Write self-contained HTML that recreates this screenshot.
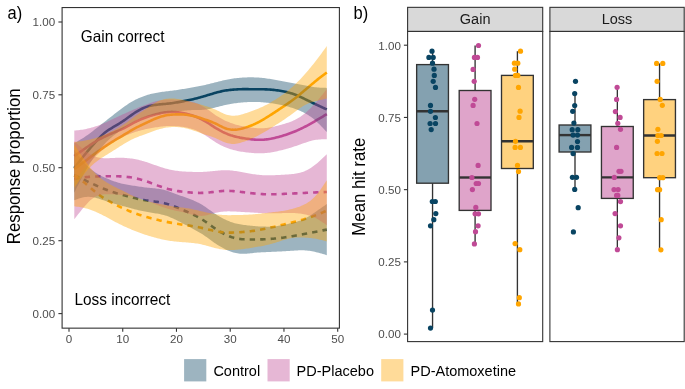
<!DOCTYPE html>
<html><head><meta charset="utf-8"><style>
html,body{margin:0;padding:0;background:#fff;width:685px;height:389px;overflow:hidden}
svg text{font-family:"Liberation Sans", sans-serif}
svg{will-change:transform}
</style></head><body>
<svg width="685" height="389" viewBox="0 0 685 389" style="display:block">
<rect width="685" height="389" fill="#fff"/>
<g>
<path d="M74.30,167.93 L75.64,166.22 L76.97,164.50 L78.31,162.79 L79.64,161.09 L80.98,159.40 L82.32,157.72 L83.65,156.06 L84.99,154.41 L86.32,152.79 L87.66,151.18 L89.00,149.60 L90.33,148.03 L91.67,146.48 L93.00,144.94 L94.34,143.41 L95.68,141.90 L97.01,140.41 L98.35,138.94 L99.68,137.52 L101.02,136.15 L102.36,134.85 L103.69,133.62 L105.03,132.49 L106.36,131.45 L107.70,130.50 L109.04,129.62 L110.37,128.79 L111.71,128.01 L113.04,127.24 L114.38,126.47 L115.72,125.70 L117.05,124.91 L118.39,124.10 L119.72,123.26 L121.06,122.41 L122.40,121.53 L123.73,120.63 L125.07,119.71 L126.40,118.76 L127.74,117.80 L129.08,116.82 L130.41,115.85 L131.75,114.89 L133.08,113.95 L134.42,113.04 L135.76,112.16 L137.09,111.33 L138.43,110.54 L139.76,109.80 L141.10,109.10 L142.43,108.46 L143.77,107.88 L145.11,107.35 L146.44,106.88 L147.78,106.47 L149.11,106.11 L150.45,105.79 L151.79,105.51 L153.12,105.27 L154.46,105.05 L155.79,104.87 L157.13,104.70 L158.47,104.55 L159.80,104.41 L161.14,104.28 L162.47,104.16 L163.81,104.04 L165.15,103.92 L166.48,103.79 L167.82,103.65 L169.15,103.50 L170.49,103.34 L171.83,103.18 L173.16,103.00 L174.50,102.80 L175.83,102.59 L177.17,102.37 L178.51,102.14 L179.84,101.89 L181.18,101.64 L182.51,101.38 L183.85,101.12 L185.19,100.85 L186.52,100.58 L187.86,100.31 L189.19,100.03 L190.53,99.75 L191.87,99.46 L193.20,99.15 L194.54,98.84 L195.87,98.51 L197.21,98.17 L198.55,97.82 L199.88,97.45 L201.22,97.08 L202.55,96.70 L203.89,96.31 L205.23,95.91 L206.56,95.51 L207.90,95.10 L209.23,94.70 L210.57,94.29 L211.91,93.89 L213.24,93.50 L214.58,93.11 L215.91,92.74 L217.25,92.37 L218.59,92.02 L219.92,91.69 L221.26,91.38 L222.59,91.09 L223.93,90.82 L225.27,90.58 L226.60,90.37 L227.94,90.18 L229.27,90.02 L230.61,89.87 L231.95,89.75 L233.28,89.63 L234.62,89.53 L235.95,89.44 L237.29,89.36 L238.63,89.29 L239.96,89.23 L241.30,89.18 L242.63,89.15 L243.97,89.13 L245.31,89.12 L246.64,89.13 L247.98,89.15 L249.31,89.18 L250.65,89.21 L251.99,89.25 L253.32,89.27 L254.66,89.29 L255.99,89.30 L257.33,89.30 L258.67,89.29 L260.00,89.29 L261.34,89.28 L262.67,89.28 L264.01,89.30 L265.34,89.33 L266.68,89.38 L268.02,89.45 L269.35,89.53 L270.69,89.63 L272.02,89.75 L273.36,89.89 L274.70,90.04 L276.03,90.21 L277.37,90.39 L278.70,90.58 L280.04,90.80 L281.38,91.03 L282.71,91.28 L284.05,91.54 L285.38,91.82 L286.72,92.13 L288.06,92.45 L289.39,92.80 L290.73,93.18 L292.06,93.58 L293.40,94.02 L294.74,94.50 L296.07,95.01 L297.41,95.56 L298.74,96.14 L300.08,96.74 L301.42,97.37 L302.75,98.00 L304.09,98.65 L305.42,99.31 L306.76,99.96 L308.10,100.61 L309.43,101.27 L310.77,101.92 L312.10,102.57 L313.44,103.21 L314.78,103.85 L316.11,104.49 L317.45,105.11 L318.78,105.74 L320.12,106.36 L321.46,106.97 L322.79,107.59 L324.13,108.20 L325.46,108.81 L326.80,109.42" fill="none" stroke="#094462" stroke-width="2.6"/>
<path d="M74.30,175.02 L75.64,175.68 L76.97,176.34 L78.31,177.01 L79.64,177.67 L80.98,178.32 L82.32,178.98 L83.65,179.63 L84.99,180.27 L86.32,180.91 L87.66,181.55 L89.00,182.18 L90.33,182.80 L91.67,183.42 L93.00,184.04 L94.34,184.65 L95.68,185.25 L97.01,185.85 L98.35,186.45 L99.68,187.03 L101.02,187.61 L102.36,188.17 L103.69,188.72 L105.03,189.26 L106.36,189.78 L107.70,190.28 L109.04,190.77 L110.37,191.24 L111.71,191.70 L113.04,192.14 L114.38,192.57 L115.72,192.98 L117.05,193.38 L118.39,193.77 L119.72,194.14 L121.06,194.52 L122.40,194.88 L123.73,195.24 L125.07,195.60 L126.40,195.96 L127.74,196.32 L129.08,196.68 L130.41,197.03 L131.75,197.37 L133.08,197.71 L134.42,198.04 L135.76,198.36 L137.09,198.66 L138.43,198.96 L139.76,199.24 L141.10,199.51 L142.43,199.76 L143.77,200.00 L145.11,200.22 L146.44,200.43 L147.78,200.62 L149.11,200.81 L150.45,200.99 L151.79,201.16 L153.12,201.33 L154.46,201.51 L155.79,201.69 L157.13,201.87 L158.47,202.08 L159.80,202.29 L161.14,202.53 L162.47,202.79 L163.81,203.08 L165.15,203.40 L166.48,203.76 L167.82,204.15 L169.15,204.57 L170.49,205.01 L171.83,205.48 L173.16,205.97 L174.50,206.48 L175.83,207.01 L177.17,207.54 L178.51,208.09 L179.84,208.65 L181.18,209.22 L182.51,209.79 L183.85,210.37 L185.19,210.95 L186.52,211.53 L187.86,212.11 L189.19,212.71 L190.53,213.31 L191.87,213.93 L193.20,214.57 L194.54,215.23 L195.87,215.91 L197.21,216.62 L198.55,217.36 L199.88,218.13 L201.22,218.93 L202.55,219.76 L203.89,220.62 L205.23,221.51 L206.56,222.44 L207.90,223.39 L209.23,224.35 L210.57,225.32 L211.91,226.29 L213.24,227.24 L214.58,228.17 L215.91,229.07 L217.25,229.93 L218.59,230.76 L219.92,231.56 L221.26,232.32 L222.59,233.05 L223.93,233.75 L225.27,234.42 L226.60,235.05 L227.94,235.65 L229.27,236.21 L230.61,236.73 L231.95,237.20 L233.28,237.62 L234.62,238.00 L235.95,238.32 L237.29,238.58 L238.63,238.80 L239.96,238.98 L241.30,239.13 L242.63,239.24 L243.97,239.32 L245.31,239.39 L246.64,239.44 L247.98,239.47 L249.31,239.49 L250.65,239.50 L251.99,239.50 L253.32,239.50 L254.66,239.49 L255.99,239.47 L257.33,239.46 L258.67,239.44 L260.00,239.41 L261.34,239.38 L262.67,239.34 L264.01,239.30 L265.34,239.24 L266.68,239.17 L268.02,239.09 L269.35,239.00 L270.69,238.90 L272.02,238.79 L273.36,238.68 L274.70,238.56 L276.03,238.43 L277.37,238.29 L278.70,238.15 L280.04,238.00 L281.38,237.84 L282.71,237.67 L284.05,237.50 L285.38,237.31 L286.72,237.11 L288.06,236.90 L289.39,236.69 L290.73,236.46 L292.06,236.23 L293.40,236.00 L294.74,235.76 L296.07,235.51 L297.41,235.26 L298.74,235.01 L300.08,234.76 L301.42,234.50 L302.75,234.25 L304.09,233.99 L305.42,233.74 L306.76,233.48 L308.10,233.22 L309.43,232.97 L310.77,232.71 L312.10,232.45 L313.44,232.20 L314.78,231.94 L316.11,231.68 L317.45,231.42 L318.78,231.16 L320.12,230.90 L321.46,230.64 L322.79,230.38 L324.13,230.12 L325.46,229.86 L326.80,229.60" fill="none" stroke="#094462" stroke-width="2.6" stroke-dasharray="5.4 5.1"/>
<path d="M74.30,156.00 L75.64,155.08 L76.97,154.15 L78.31,153.23 L79.64,152.31 L80.98,151.38 L82.32,150.46 L83.65,149.53 L84.99,148.61 L86.32,147.68 L87.66,146.76 L89.00,145.85 L90.33,144.94 L91.67,144.06 L93.00,143.19 L94.34,142.34 L95.68,141.52 L97.01,140.73 L98.35,139.97 L99.68,139.23 L101.02,138.51 L102.36,137.82 L103.69,137.15 L105.03,136.50 L106.36,135.87 L107.70,135.25 L109.04,134.65 L110.37,134.06 L111.71,133.48 L113.04,132.91 L114.38,132.35 L115.72,131.79 L117.05,131.23 L118.39,130.67 L119.72,130.10 L121.06,129.51 L122.40,128.90 L123.73,128.27 L125.07,127.60 L126.40,126.90 L127.74,126.18 L129.08,125.43 L130.41,124.68 L131.75,123.93 L133.08,123.18 L134.42,122.46 L135.76,121.76 L137.09,121.09 L138.43,120.46 L139.76,119.85 L141.10,119.27 L142.43,118.71 L143.77,118.18 L145.11,117.68 L146.44,117.20 L147.78,116.74 L149.11,116.30 L150.45,115.88 L151.79,115.48 L153.12,115.09 L154.46,114.72 L155.79,114.36 L157.13,114.01 L158.47,113.67 L159.80,113.36 L161.14,113.07 L162.47,112.81 L163.81,112.58 L165.15,112.38 L166.48,112.22 L167.82,112.09 L169.15,112.00 L170.49,111.94 L171.83,111.92 L173.16,111.94 L174.50,111.99 L175.83,112.07 L177.17,112.19 L178.51,112.33 L179.84,112.51 L181.18,112.72 L182.51,112.95 L183.85,113.22 L185.19,113.51 L186.52,113.82 L187.86,114.17 L189.19,114.53 L190.53,114.93 L191.87,115.35 L193.20,115.80 L194.54,116.27 L195.87,116.77 L197.21,117.30 L198.55,117.87 L199.88,118.47 L201.22,119.10 L202.55,119.78 L203.89,120.50 L205.23,121.26 L206.56,122.07 L207.90,122.91 L209.23,123.78 L210.57,124.66 L211.91,125.55 L213.24,126.43 L214.58,127.29 L215.91,128.13 L217.25,128.93 L218.59,129.70 L219.92,130.45 L221.26,131.15 L222.59,131.83 L223.93,132.47 L225.27,133.07 L226.60,133.64 L227.94,134.18 L229.27,134.68 L230.61,135.15 L231.95,135.58 L233.28,135.99 L234.62,136.37 L235.95,136.71 L237.29,137.04 L238.63,137.33 L239.96,137.61 L241.30,137.86 L242.63,138.10 L243.97,138.32 L245.31,138.53 L246.64,138.73 L247.98,138.91 L249.31,139.08 L250.65,139.24 L251.99,139.38 L253.32,139.50 L254.66,139.60 L255.99,139.69 L257.33,139.75 L258.67,139.79 L260.00,139.80 L261.34,139.78 L262.67,139.74 L264.01,139.66 L265.34,139.55 L266.68,139.40 L268.02,139.22 L269.35,139.01 L270.69,138.78 L272.02,138.51 L273.36,138.23 L274.70,137.92 L276.03,137.60 L277.37,137.26 L278.70,136.91 L280.04,136.53 L281.38,136.15 L282.71,135.75 L284.05,135.33 L285.38,134.91 L286.72,134.46 L288.06,134.01 L289.39,133.54 L290.73,133.05 L292.06,132.55 L293.40,132.03 L294.74,131.49 L296.07,130.94 L297.41,130.37 L298.74,129.77 L300.08,129.16 L301.42,128.53 L302.75,127.88 L304.09,127.21 L305.42,126.52 L306.76,125.81 L308.10,125.09 L309.43,124.35 L310.77,123.59 L312.10,122.83 L313.44,122.05 L314.78,121.27 L316.11,120.49 L317.45,119.70 L318.78,118.91 L320.12,118.11 L321.46,117.31 L322.79,116.52 L324.13,115.72 L325.46,114.91 L326.80,114.11" fill="none" stroke="#c04a96" stroke-width="2.6"/>
<path d="M74.30,178.93 L75.64,178.69 L76.97,178.45 L78.31,178.22 L79.64,177.99 L80.98,177.78 L82.32,177.58 L83.65,177.39 L84.99,177.23 L86.32,177.09 L87.66,176.97 L89.00,176.86 L90.33,176.77 L91.67,176.70 L93.00,176.63 L94.34,176.57 L95.68,176.52 L97.01,176.47 L98.35,176.43 L99.68,176.39 L101.02,176.36 L102.36,176.32 L103.69,176.29 L105.03,176.27 L106.36,176.24 L107.70,176.22 L109.04,176.20 L110.37,176.19 L111.71,176.18 L113.04,176.19 L114.38,176.20 L115.72,176.22 L117.05,176.25 L118.39,176.29 L119.72,176.34 L121.06,176.41 L122.40,176.49 L123.73,176.59 L125.07,176.70 L126.40,176.83 L127.74,176.98 L129.08,177.15 L130.41,177.33 L131.75,177.54 L133.08,177.77 L134.42,178.02 L135.76,178.30 L137.09,178.61 L138.43,178.93 L139.76,179.28 L141.10,179.66 L142.43,180.05 L143.77,180.47 L145.11,180.91 L146.44,181.37 L147.78,181.84 L149.11,182.33 L150.45,182.83 L151.79,183.34 L153.12,183.85 L154.46,184.36 L155.79,184.86 L157.13,185.36 L158.47,185.85 L159.80,186.33 L161.14,186.79 L162.47,187.25 L163.81,187.68 L165.15,188.10 L166.48,188.50 L167.82,188.88 L169.15,189.23 L170.49,189.57 L171.83,189.88 L173.16,190.18 L174.50,190.45 L175.83,190.70 L177.17,190.93 L178.51,191.14 L179.84,191.34 L181.18,191.52 L182.51,191.69 L183.85,191.85 L185.19,192.00 L186.52,192.14 L187.86,192.27 L189.19,192.40 L190.53,192.51 L191.87,192.61 L193.20,192.70 L194.54,192.78 L195.87,192.84 L197.21,192.89 L198.55,192.92 L199.88,192.93 L201.22,192.92 L202.55,192.90 L203.89,192.85 L205.23,192.78 L206.56,192.68 L207.90,192.57 L209.23,192.44 L210.57,192.30 L211.91,192.15 L213.24,191.99 L214.58,191.83 L215.91,191.66 L217.25,191.51 L218.59,191.35 L219.92,191.22 L221.26,191.09 L222.59,190.99 L223.93,190.91 L225.27,190.86 L226.60,190.85 L227.94,190.86 L229.27,190.89 L230.61,190.95 L231.95,191.04 L233.28,191.14 L234.62,191.25 L235.95,191.38 L237.29,191.53 L238.63,191.68 L239.96,191.83 L241.30,192.00 L242.63,192.16 L243.97,192.32 L245.31,192.49 L246.64,192.64 L247.98,192.80 L249.31,192.95 L250.65,193.09 L251.99,193.23 L253.32,193.37 L254.66,193.50 L255.99,193.62 L257.33,193.74 L258.67,193.85 L260.00,193.96 L261.34,194.05 L262.67,194.13 L264.01,194.19 L265.34,194.24 L266.68,194.27 L268.02,194.29 L269.35,194.30 L270.69,194.29 L272.02,194.28 L273.36,194.25 L274.70,194.22 L276.03,194.18 L277.37,194.14 L278.70,194.09 L280.04,194.04 L281.38,193.98 L282.71,193.93 L284.05,193.87 L285.38,193.81 L286.72,193.75 L288.06,193.70 L289.39,193.64 L290.73,193.58 L292.06,193.52 L293.40,193.46 L294.74,193.40 L296.07,193.34 L297.41,193.27 L298.74,193.21 L300.08,193.14 L301.42,193.08 L302.75,193.01 L304.09,192.94 L305.42,192.87 L306.76,192.81 L308.10,192.74 L309.43,192.67 L310.77,192.61 L312.10,192.55 L313.44,192.49 L314.78,192.43 L316.11,192.37 L317.45,192.32 L318.78,192.27 L320.12,192.22 L321.46,192.17 L322.79,192.13 L324.13,192.08 L325.46,192.04 L326.80,191.99" fill="none" stroke="#c04a96" stroke-width="2.6" stroke-dasharray="5.4 5.1"/>
<path d="M74.30,169.03 L75.64,168.07 L76.97,167.10 L78.31,166.13 L79.64,165.15 L80.98,164.17 L82.32,163.19 L83.65,162.20 L84.99,161.19 L86.32,160.18 L87.66,159.17 L89.00,158.15 L90.33,157.12 L91.67,156.11 L93.00,155.10 L94.34,154.09 L95.68,153.10 L97.01,152.13 L98.35,151.17 L99.68,150.22 L101.02,149.28 L102.36,148.36 L103.69,147.44 L105.03,146.54 L106.36,145.64 L107.70,144.75 L109.04,143.88 L110.37,143.01 L111.71,142.16 L113.04,141.32 L114.38,140.50 L115.72,139.69 L117.05,138.90 L118.39,138.11 L119.72,137.34 L121.06,136.56 L122.40,135.78 L123.73,134.99 L125.07,134.20 L126.40,133.39 L127.74,132.58 L129.08,131.76 L130.41,130.95 L131.75,130.16 L133.08,129.38 L134.42,128.62 L135.76,127.90 L137.09,127.21 L138.43,126.54 L139.76,125.89 L141.10,125.26 L142.43,124.63 L143.77,124.00 L145.11,123.37 L146.44,122.73 L147.78,122.09 L149.11,121.46 L150.45,120.82 L151.79,120.20 L153.12,119.60 L154.46,119.02 L155.79,118.47 L157.13,117.95 L158.47,117.47 L159.80,117.02 L161.14,116.60 L162.47,116.22 L163.81,115.87 L165.15,115.57 L166.48,115.31 L167.82,115.08 L169.15,114.89 L170.49,114.73 L171.83,114.61 L173.16,114.50 L174.50,114.43 L175.83,114.37 L177.17,114.34 L178.51,114.33 L179.84,114.34 L181.18,114.38 L182.51,114.44 L183.85,114.53 L185.19,114.64 L186.52,114.79 L187.86,114.97 L189.19,115.17 L190.53,115.41 L191.87,115.67 L193.20,115.96 L194.54,116.29 L195.87,116.64 L197.21,117.02 L198.55,117.42 L199.88,117.84 L201.22,118.27 L202.55,118.72 L203.89,119.17 L205.23,119.62 L206.56,120.08 L207.90,120.54 L209.23,121.02 L210.57,121.51 L211.91,122.03 L213.24,122.58 L214.58,123.16 L215.91,123.78 L217.25,124.44 L218.59,125.12 L219.92,125.79 L221.26,126.45 L222.59,127.08 L223.93,127.67 L225.27,128.19 L226.60,128.64 L227.94,129.01 L229.27,129.30 L230.61,129.53 L231.95,129.67 L233.28,129.75 L234.62,129.75 L235.95,129.67 L237.29,129.53 L238.63,129.33 L239.96,129.07 L241.30,128.76 L242.63,128.41 L243.97,128.03 L245.31,127.62 L246.64,127.19 L247.98,126.74 L249.31,126.26 L250.65,125.75 L251.99,125.21 L253.32,124.65 L254.66,124.05 L255.99,123.41 L257.33,122.75 L258.67,122.05 L260.00,121.33 L261.34,120.59 L262.67,119.82 L264.01,119.04 L265.34,118.24 L266.68,117.42 L268.02,116.59 L269.35,115.76 L270.69,114.91 L272.02,114.05 L273.36,113.18 L274.70,112.31 L276.03,111.43 L277.37,110.55 L278.70,109.66 L280.04,108.76 L281.38,107.86 L282.71,106.96 L284.05,106.06 L285.38,105.15 L286.72,104.24 L288.06,103.32 L289.39,102.40 L290.73,101.45 L292.06,100.50 L293.40,99.51 L294.74,98.51 L296.07,97.47 L297.41,96.41 L298.74,95.32 L300.08,94.21 L301.42,93.09 L302.75,91.96 L304.09,90.82 L305.42,89.68 L306.76,88.53 L308.10,87.39 L309.43,86.25 L310.77,85.12 L312.10,84.00 L313.44,82.89 L314.78,81.79 L316.11,80.71 L317.45,79.64 L318.78,78.59 L320.12,77.55 L321.46,76.52 L322.79,75.50 L324.13,74.48 L325.46,73.46 L326.80,72.45" fill="none" stroke="#ffa500" stroke-width="2.6"/>
<path d="M74.30,175.27 L75.64,176.19 L76.97,177.12 L78.31,178.06 L79.64,179.02 L80.98,180.00 L82.32,181.00 L83.65,182.03 L84.99,183.10 L86.32,184.21 L87.66,185.35 L89.00,186.51 L90.33,187.68 L91.67,188.85 L93.00,190.00 L94.34,191.12 L95.68,192.21 L97.01,193.26 L98.35,194.28 L99.68,195.25 L101.02,196.19 L102.36,197.10 L103.69,197.98 L105.03,198.82 L106.36,199.65 L107.70,200.44 L109.04,201.22 L110.37,201.97 L111.71,202.70 L113.04,203.42 L114.38,204.12 L115.72,204.81 L117.05,205.48 L118.39,206.14 L119.72,206.79 L121.06,207.42 L122.40,208.04 L123.73,208.65 L125.07,209.25 L126.40,209.83 L127.74,210.40 L129.08,210.96 L130.41,211.50 L131.75,212.03 L133.08,212.55 L134.42,213.05 L135.76,213.53 L137.09,214.00 L138.43,214.46 L139.76,214.90 L141.10,215.33 L142.43,215.75 L143.77,216.16 L145.11,216.57 L146.44,216.96 L147.78,217.34 L149.11,217.72 L150.45,218.09 L151.79,218.45 L153.12,218.80 L154.46,219.14 L155.79,219.47 L157.13,219.79 L158.47,220.11 L159.80,220.41 L161.14,220.71 L162.47,221.00 L163.81,221.28 L165.15,221.57 L166.48,221.84 L167.82,222.11 L169.15,222.38 L170.49,222.64 L171.83,222.89 L173.16,223.13 L174.50,223.37 L175.83,223.59 L177.17,223.81 L178.51,224.02 L179.84,224.23 L181.18,224.43 L182.51,224.63 L183.85,224.82 L185.19,225.02 L186.52,225.21 L187.86,225.41 L189.19,225.61 L190.53,225.81 L191.87,226.02 L193.20,226.24 L194.54,226.47 L195.87,226.72 L197.21,226.97 L198.55,227.24 L199.88,227.52 L201.22,227.81 L202.55,228.11 L203.89,228.42 L205.23,228.73 L206.56,229.06 L207.90,229.39 L209.23,229.71 L210.57,230.04 L211.91,230.36 L213.24,230.67 L214.58,230.96 L215.91,231.23 L217.25,231.49 L218.59,231.72 L219.92,231.93 L221.26,232.11 L222.59,232.27 L223.93,232.40 L225.27,232.50 L226.60,232.56 L227.94,232.60 L229.27,232.62 L230.61,232.61 L231.95,232.59 L233.28,232.55 L234.62,232.50 L235.95,232.44 L237.29,232.37 L238.63,232.29 L239.96,232.21 L241.30,232.12 L242.63,232.02 L243.97,231.91 L245.31,231.80 L246.64,231.67 L247.98,231.54 L249.31,231.39 L250.65,231.23 L251.99,231.06 L253.32,230.88 L254.66,230.68 L255.99,230.47 L257.33,230.24 L258.67,230.01 L260.00,229.75 L261.34,229.49 L262.67,229.23 L264.01,228.96 L265.34,228.68 L266.68,228.40 L268.02,228.12 L269.35,227.83 L270.69,227.54 L272.02,227.25 L273.36,226.95 L274.70,226.65 L276.03,226.35 L277.37,226.04 L278.70,225.73 L280.04,225.41 L281.38,225.09 L282.71,224.77 L284.05,224.45 L285.38,224.12 L286.72,223.80 L288.06,223.47 L289.39,223.14 L290.73,222.81 L292.06,222.47 L293.40,222.13 L294.74,221.79 L296.07,221.45 L297.41,221.10 L298.74,220.75 L300.08,220.39 L301.42,220.02 L302.75,219.64 L304.09,219.25 L305.42,218.84 L306.76,218.43 L308.10,218.00 L309.43,217.55 L310.77,217.10 L312.10,216.62 L313.44,216.14 L314.78,215.64 L316.11,215.12 L317.45,214.59 L318.78,214.05 L320.12,213.50 L321.46,212.94 L322.79,212.37 L324.13,211.80 L325.46,211.22 L326.80,210.64" fill="none" stroke="#ffa500" stroke-width="2.6" stroke-dasharray="5.4 5.1"/>
<polygon points="74.30,143.12 75.64,142.38 76.97,141.63 78.31,140.87 79.64,140.09 80.98,139.30 82.32,138.49 83.65,137.64 84.99,136.76 86.32,135.85 87.66,134.90 89.00,133.93 90.33,132.93 91.67,131.91 93.00,130.88 94.34,129.84 95.68,128.80 97.01,127.75 98.35,126.71 99.68,125.66 101.02,124.61 102.36,123.57 103.69,122.52 105.03,121.47 106.36,120.42 107.70,119.37 109.04,118.32 110.37,117.27 111.71,116.22 113.04,115.17 114.38,114.12 115.72,113.08 117.05,112.04 118.39,111.01 119.72,109.99 121.06,108.98 122.40,107.99 123.73,107.02 125.07,106.07 126.40,105.14 127.74,104.24 129.08,103.37 130.41,102.53 131.75,101.72 133.08,100.96 134.42,100.22 135.76,99.54 137.09,98.89 138.43,98.28 139.76,97.70 141.10,97.16 142.43,96.65 143.77,96.16 145.11,95.71 146.44,95.27 147.78,94.86 149.11,94.48 150.45,94.12 151.79,93.78 153.12,93.46 154.46,93.17 155.79,92.90 157.13,92.65 158.47,92.42 159.80,92.20 161.14,92.00 162.47,91.82 163.81,91.64 165.15,91.47 166.48,91.30 167.82,91.14 169.15,90.98 170.49,90.81 171.83,90.65 173.16,90.48 174.50,90.31 175.83,90.13 177.17,89.94 178.51,89.74 179.84,89.54 181.18,89.33 182.51,89.12 183.85,88.90 185.19,88.68 186.52,88.45 187.86,88.22 189.19,87.99 190.53,87.75 191.87,87.51 193.20,87.27 194.54,87.02 195.87,86.77 197.21,86.52 198.55,86.27 199.88,86.01 201.22,85.74 202.55,85.46 203.89,85.18 205.23,84.88 206.56,84.58 207.90,84.26 209.23,83.94 210.57,83.61 211.91,83.27 213.24,82.93 214.58,82.59 215.91,82.25 217.25,81.91 218.59,81.57 219.92,81.23 221.26,80.91 222.59,80.59 223.93,80.28 225.27,79.99 226.60,79.71 227.94,79.45 229.27,79.20 230.61,78.97 231.95,78.75 233.28,78.55 234.62,78.37 235.95,78.20 237.29,78.05 238.63,77.92 239.96,77.80 241.30,77.69 242.63,77.60 243.97,77.52 245.31,77.46 246.64,77.41 247.98,77.37 249.31,77.35 250.65,77.34 251.99,77.35 253.32,77.37 254.66,77.40 255.99,77.46 257.33,77.53 258.67,77.61 260.00,77.71 261.34,77.83 262.67,77.96 264.01,78.11 265.34,78.27 266.68,78.45 268.02,78.64 269.35,78.84 270.69,79.05 272.02,79.28 273.36,79.50 274.70,79.74 276.03,79.98 277.37,80.23 278.70,80.47 280.04,80.72 281.38,80.97 282.71,81.22 284.05,81.47 285.38,81.71 286.72,81.95 288.06,82.19 289.39,82.43 290.73,82.67 292.06,82.90 293.40,83.15 294.74,83.39 296.07,83.64 297.41,83.89 298.74,84.15 300.08,84.41 301.42,84.68 302.75,84.94 304.09,85.21 305.42,85.49 306.76,85.76 308.10,86.03 309.43,86.29 310.77,86.54 312.10,86.78 313.44,86.99 314.78,87.17 316.11,87.33 317.45,87.46 318.78,87.57 320.12,87.65 321.46,87.72 322.79,87.77 324.13,87.82 325.46,87.85 326.80,87.89 326.80,132.11 325.46,130.66 324.13,129.21 322.79,127.79 321.46,126.38 320.12,125.01 318.78,123.67 317.45,122.38 316.11,121.15 314.78,119.97 313.44,118.86 312.10,117.81 310.77,116.83 309.43,115.90 308.10,115.03 306.76,114.22 305.42,113.45 304.09,112.73 302.75,112.05 301.42,111.42 300.08,110.82 298.74,110.25 297.41,109.72 296.07,109.21 294.74,108.73 293.40,108.27 292.06,107.83 290.73,107.40 289.39,107.00 288.06,106.62 286.72,106.25 285.38,105.91 284.05,105.58 282.71,105.27 281.38,104.97 280.04,104.70 278.70,104.43 277.37,104.19 276.03,103.95 274.70,103.73 273.36,103.52 272.02,103.32 270.69,103.14 269.35,102.96 268.02,102.80 266.68,102.65 265.34,102.52 264.01,102.39 262.67,102.28 261.34,102.19 260.00,102.11 258.67,102.04 257.33,101.99 255.99,101.95 254.66,101.94 253.32,101.94 251.99,101.95 250.65,101.98 249.31,102.03 247.98,102.09 246.64,102.16 245.31,102.25 243.97,102.34 242.63,102.45 241.30,102.57 239.96,102.70 238.63,102.85 237.29,103.00 235.95,103.17 234.62,103.35 233.28,103.54 231.95,103.75 230.61,103.98 229.27,104.21 227.94,104.47 226.60,104.74 225.27,105.02 223.93,105.32 222.59,105.64 221.26,105.97 219.92,106.30 218.59,106.65 217.25,106.99 215.91,107.34 214.58,107.69 213.24,108.03 211.91,108.36 210.57,108.67 209.23,108.96 207.90,109.21 206.56,109.44 205.23,109.62 203.89,109.76 202.55,109.85 201.22,109.91 199.88,109.95 198.55,109.97 197.21,109.98 195.87,110.00 194.54,110.02 193.20,110.05 191.87,110.09 190.53,110.15 189.19,110.22 187.86,110.31 186.52,110.40 185.19,110.51 183.85,110.64 182.51,110.77 181.18,110.91 179.84,111.07 178.51,111.23 177.17,111.40 175.83,111.57 174.50,111.74 173.16,111.92 171.83,112.10 170.49,112.29 169.15,112.47 167.82,112.66 166.48,112.84 165.15,113.03 163.81,113.22 162.47,113.41 161.14,113.60 159.80,113.80 158.47,114.00 157.13,114.21 155.79,114.43 154.46,114.66 153.12,114.91 151.79,115.17 150.45,115.45 149.11,115.75 147.78,116.07 146.44,116.43 145.11,116.81 143.77,117.23 142.43,117.69 141.10,118.18 139.76,118.70 138.43,119.27 137.09,119.87 135.76,120.52 134.42,121.20 133.08,121.93 131.75,122.70 130.41,123.50 129.08,124.33 127.74,125.19 126.40,126.08 125.07,126.99 123.73,127.93 122.40,128.88 121.06,129.86 119.72,130.85 118.39,131.86 117.05,132.89 115.72,133.94 114.38,135.01 113.04,136.10 111.71,137.22 110.37,138.37 109.04,139.57 107.70,140.81 106.36,142.11 105.03,143.47 103.69,144.90 102.36,146.40 101.02,147.96 99.68,149.60 98.35,151.29 97.01,153.06 95.68,154.89 94.34,156.78 93.00,158.74 91.67,160.76 90.33,162.84 89.00,165.00 87.66,167.23 86.32,169.53 84.99,171.90 83.65,174.34 82.32,176.85 80.98,179.42 79.64,182.03 78.31,184.68 76.97,187.36 75.64,190.06 74.30,192.76" fill="#094462" fill-opacity="0.4"/>
<polygon points="74.30,149.80 75.64,151.65 76.97,153.48 78.31,155.29 79.64,157.06 80.98,158.79 82.32,160.45 83.65,162.05 84.99,163.56 86.32,164.97 87.66,166.30 89.00,167.54 90.33,168.70 91.67,169.79 93.00,170.80 94.34,171.76 95.68,172.65 97.01,173.49 98.35,174.27 99.68,175.02 101.02,175.72 102.36,176.39 103.69,177.03 105.03,177.65 106.36,178.24 107.70,178.82 109.04,179.37 110.37,179.91 111.71,180.42 113.04,180.91 114.38,181.38 115.72,181.83 117.05,182.26 118.39,182.66 119.72,183.04 121.06,183.39 122.40,183.72 123.73,184.03 125.07,184.32 126.40,184.58 127.74,184.82 129.08,185.05 130.41,185.26 131.75,185.46 133.08,185.66 134.42,185.86 135.76,186.06 137.09,186.26 138.43,186.46 139.76,186.66 141.10,186.85 142.43,187.04 143.77,187.22 145.11,187.39 146.44,187.54 147.78,187.69 149.11,187.83 150.45,187.97 151.79,188.10 153.12,188.24 154.46,188.37 155.79,188.52 157.13,188.68 158.47,188.86 159.80,189.05 161.14,189.28 162.47,189.54 163.81,189.84 165.15,190.18 166.48,190.57 167.82,191.00 169.15,191.46 170.49,191.94 171.83,192.45 173.16,192.96 174.50,193.46 175.83,193.97 177.17,194.46 178.51,194.94 179.84,195.42 181.18,195.89 182.51,196.36 183.85,196.83 185.19,197.30 186.52,197.77 187.86,198.24 189.19,198.73 190.53,199.24 191.87,199.76 193.20,200.31 194.54,200.89 195.87,201.50 197.21,202.15 198.55,202.84 199.88,203.56 201.22,204.32 202.55,205.11 203.89,205.95 205.23,206.82 206.56,207.74 207.90,208.68 209.23,209.63 210.57,210.60 211.91,211.56 213.24,212.51 214.58,213.44 215.91,214.33 217.25,215.19 218.59,216.01 219.92,216.79 221.26,217.54 222.59,218.26 223.93,218.95 225.27,219.60 226.60,220.23 227.94,220.82 229.27,221.37 230.61,221.89 231.95,222.36 233.28,222.79 234.62,223.18 235.95,223.52 237.29,223.82 238.63,224.08 239.96,224.31 241.30,224.51 242.63,224.70 243.97,224.88 245.31,225.05 246.64,225.22 247.98,225.38 249.31,225.54 250.65,225.70 251.99,225.84 253.32,225.98 254.66,226.10 255.99,226.21 257.33,226.30 258.67,226.38 260.00,226.45 261.34,226.51 262.67,226.55 264.01,226.59 265.34,226.62 266.68,226.63 268.02,226.64 269.35,226.63 270.69,226.60 272.02,226.54 273.36,226.46 274.70,226.35 276.03,226.21 277.37,226.03 278.70,225.83 280.04,225.60 281.38,225.36 282.71,225.09 284.05,224.81 285.38,224.52 286.72,224.23 288.06,223.92 289.39,223.61 290.73,223.28 292.06,222.95 293.40,222.61 294.74,222.25 296.07,221.88 297.41,221.49 298.74,221.08 300.08,220.63 301.42,220.14 302.75,219.60 304.09,219.01 305.42,218.35 306.76,217.62 308.10,216.84 309.43,216.01 310.77,215.14 312.10,214.24 313.44,213.33 314.78,212.40 316.11,211.47 317.45,210.55 318.78,209.62 320.12,208.70 321.46,207.78 322.79,206.86 324.13,205.94 325.46,205.02 326.80,204.10 326.80,255.14 325.46,254.74 324.13,254.35 322.79,253.96 321.46,253.57 320.12,253.20 318.78,252.84 317.45,252.49 316.11,252.16 314.78,251.85 313.44,251.56 312.10,251.29 310.77,251.05 309.43,250.84 308.10,250.66 306.76,250.51 305.42,250.40 304.09,250.32 302.75,250.28 301.42,250.27 300.08,250.29 298.74,250.33 297.41,250.39 296.07,250.47 294.74,250.55 293.40,250.64 292.06,250.74 290.73,250.83 289.39,250.93 288.06,251.03 286.72,251.12 285.38,251.21 284.05,251.29 282.71,251.36 281.38,251.43 280.04,251.50 278.70,251.56 277.37,251.62 276.03,251.67 274.70,251.73 273.36,251.79 272.02,251.85 270.69,251.90 269.35,251.96 268.02,252.02 266.68,252.08 265.34,252.14 264.01,252.21 262.67,252.28 261.34,252.35 260.00,252.43 258.67,252.51 257.33,252.61 255.99,252.72 254.66,252.85 253.32,252.98 251.99,253.13 250.65,253.27 249.31,253.41 247.98,253.53 246.64,253.64 245.31,253.71 243.97,253.76 242.63,253.77 241.30,253.73 239.96,253.65 238.63,253.53 237.29,253.35 235.95,253.11 234.62,252.81 233.28,252.46 231.95,252.04 230.61,251.57 229.27,251.05 227.94,250.49 226.60,249.88 225.27,249.24 223.93,248.56 222.59,247.85 221.26,247.10 219.92,246.32 218.59,245.51 217.25,244.67 215.91,243.79 214.58,242.88 213.24,241.94 211.91,240.98 210.57,240.00 209.23,239.02 207.90,238.05 206.56,237.09 205.23,236.15 203.89,235.24 202.55,234.37 201.22,233.53 199.88,232.71 198.55,231.91 197.21,231.13 195.87,230.38 194.54,229.63 193.20,228.90 191.87,228.18 190.53,227.47 189.19,226.77 187.86,226.06 186.52,225.36 185.19,224.66 183.85,223.95 182.51,223.25 181.18,222.54 179.84,221.84 178.51,221.15 177.17,220.47 175.83,219.81 174.50,219.17 173.16,218.55 171.83,217.95 170.49,217.38 169.15,216.84 167.82,216.34 166.48,215.87 165.15,215.44 163.81,215.06 162.47,214.71 161.14,214.40 159.80,214.11 158.47,213.85 157.13,213.61 155.79,213.38 154.46,213.17 153.12,212.95 151.79,212.74 150.45,212.53 149.11,212.32 147.78,212.09 146.44,211.86 145.11,211.61 143.77,211.35 142.43,211.07 141.10,210.78 139.76,210.47 138.43,210.15 137.09,209.82 135.76,209.49 134.42,209.14 133.08,208.78 131.75,208.42 130.41,208.06 129.08,207.70 127.74,207.33 126.40,206.96 125.07,206.60 123.73,206.24 122.40,205.88 121.06,205.52 119.72,205.16 118.39,204.80 117.05,204.44 115.72,204.07 114.38,203.69 113.04,203.31 111.71,202.91 110.37,202.51 109.04,202.10 107.70,201.68 106.36,201.24 105.03,200.80 103.69,200.35 102.36,199.89 101.02,199.44 99.68,199.01 98.35,198.59 97.01,198.20 95.68,197.85 94.34,197.54 93.00,197.29 91.67,197.09 90.33,196.95 89.00,196.87 87.66,196.86 86.32,196.93 84.99,197.07 83.65,197.29 82.32,197.58 80.98,197.93 79.64,198.33 78.31,198.77 76.97,199.25 75.64,199.74 74.30,200.24" fill="#094462" fill-opacity="0.4"/>
<polygon points="74.30,130.59 75.64,130.45 76.97,130.31 78.31,130.16 79.64,130.00 80.98,129.82 82.32,129.63 83.65,129.42 84.99,129.18 86.32,128.91 87.66,128.61 89.00,128.29 90.33,127.94 91.67,127.57 93.00,127.18 94.34,126.77 95.68,126.34 97.01,125.89 98.35,125.42 99.68,124.93 101.02,124.41 102.36,123.88 103.69,123.32 105.03,122.74 106.36,122.14 107.70,121.51 109.04,120.87 110.37,120.22 111.71,119.57 113.04,118.92 114.38,118.27 115.72,117.63 117.05,117.01 118.39,116.39 119.72,115.78 121.06,115.18 122.40,114.59 123.73,113.99 125.07,113.40 126.40,112.80 127.74,112.21 129.08,111.61 130.41,111.02 131.75,110.43 133.08,109.85 134.42,109.27 135.76,108.70 137.09,108.13 138.43,107.57 139.76,107.02 141.10,106.48 142.43,105.94 143.77,105.42 145.11,104.90 146.44,104.39 147.78,103.89 149.11,103.41 150.45,102.95 151.79,102.51 153.12,102.09 154.46,101.69 155.79,101.33 157.13,100.99 158.47,100.69 159.80,100.42 161.14,100.18 162.47,99.98 163.81,99.81 165.15,99.68 166.48,99.58 167.82,99.52 169.15,99.50 170.49,99.50 171.83,99.53 173.16,99.58 174.50,99.65 175.83,99.75 177.17,99.86 178.51,99.98 179.84,100.12 181.18,100.27 182.51,100.42 183.85,100.59 185.19,100.75 186.52,100.93 187.86,101.11 189.19,101.32 190.53,101.55 191.87,101.83 193.20,102.15 194.54,102.53 195.87,102.97 197.21,103.48 198.55,104.06 199.88,104.69 201.22,105.38 202.55,106.13 203.89,106.94 205.23,107.80 206.56,108.71 207.90,109.65 209.23,110.61 210.57,111.59 211.91,112.57 213.24,113.54 214.58,114.48 215.91,115.38 217.25,116.24 218.59,117.07 219.92,117.85 221.26,118.60 222.59,119.32 223.93,119.99 225.27,120.64 226.60,121.25 227.94,121.83 229.27,122.37 230.61,122.89 231.95,123.37 233.28,123.82 234.62,124.24 235.95,124.64 237.29,125.00 238.63,125.34 239.96,125.66 241.30,125.96 242.63,126.23 243.97,126.49 245.31,126.74 246.64,126.97 247.98,127.18 249.31,127.38 250.65,127.56 251.99,127.73 253.32,127.87 254.66,128.00 255.99,128.10 257.33,128.18 258.67,128.23 260.00,128.26 261.34,128.25 262.67,128.22 264.01,128.15 265.34,128.04 266.68,127.90 268.02,127.72 269.35,127.51 270.69,127.28 272.02,127.02 273.36,126.74 274.70,126.44 276.03,126.12 277.37,125.79 278.70,125.45 280.04,125.09 281.38,124.72 282.71,124.33 284.05,123.93 285.38,123.52 286.72,123.09 288.06,122.65 289.39,122.18 290.73,121.68 292.06,121.14 293.40,120.56 294.74,119.94 296.07,119.26 297.41,118.53 298.74,117.75 300.08,116.90 301.42,116.00 302.75,115.04 304.09,114.02 305.42,112.93 306.76,111.78 308.10,110.57 309.43,109.30 310.77,107.98 312.10,106.60 313.44,105.18 314.78,103.71 316.11,102.19 317.45,100.64 318.78,99.06 320.12,97.45 321.46,95.81 322.79,94.15 324.13,92.48 325.46,90.80 326.80,89.12 326.80,139.25 325.46,139.26 324.13,139.28 322.79,139.30 321.46,139.35 320.12,139.42 318.78,139.51 317.45,139.65 316.11,139.82 314.78,140.04 313.44,140.31 312.10,140.62 310.77,140.98 309.43,141.36 308.10,141.78 306.76,142.21 305.42,142.66 304.09,143.12 302.75,143.58 301.42,144.04 300.08,144.51 298.74,144.98 297.41,145.44 296.07,145.89 294.74,146.34 293.40,146.78 292.06,147.21 290.73,147.63 289.39,148.04 288.06,148.43 286.72,148.82 285.38,149.19 284.05,149.55 282.71,149.90 281.38,150.23 280.04,150.55 278.70,150.86 277.37,151.16 276.03,151.44 274.70,151.71 273.36,151.96 272.02,152.20 270.69,152.42 269.35,152.63 268.02,152.80 266.68,152.96 265.34,153.09 264.01,153.19 262.67,153.26 261.34,153.31 260.00,153.33 258.67,153.32 257.33,153.30 255.99,153.25 254.66,153.18 253.32,153.09 251.99,152.99 250.65,152.86 249.31,152.73 247.98,152.57 246.64,152.41 245.31,152.23 243.97,152.04 242.63,151.85 241.30,151.63 239.96,151.40 238.63,151.15 237.29,150.88 235.95,150.59 234.62,150.27 233.28,149.93 231.95,149.55 230.61,149.15 229.27,148.71 227.94,148.25 226.60,147.75 225.27,147.21 223.93,146.65 222.59,146.04 221.26,145.40 219.92,144.72 218.59,144.00 217.25,143.24 215.91,142.44 214.58,141.60 213.24,140.72 211.91,139.81 210.57,138.88 209.23,137.95 207.90,137.03 206.56,136.13 205.23,135.25 203.89,134.42 202.55,133.64 201.22,132.90 199.88,132.20 198.55,131.55 197.21,130.94 195.87,130.37 194.54,129.85 193.20,129.36 191.87,128.92 190.53,128.51 189.19,128.14 187.86,127.81 186.52,127.51 185.19,127.25 183.85,127.01 182.51,126.81 181.18,126.63 179.84,126.48 178.51,126.35 177.17,126.25 175.83,126.16 174.50,126.10 173.16,126.05 171.83,126.02 170.49,126.01 169.15,126.02 167.82,126.05 166.48,126.11 165.15,126.19 163.81,126.30 162.47,126.44 161.14,126.59 159.80,126.77 158.47,126.96 157.13,127.16 155.79,127.37 154.46,127.59 153.12,127.82 151.79,128.05 150.45,128.29 149.11,128.55 147.78,128.81 146.44,129.08 145.11,129.36 143.77,129.66 142.43,129.97 141.10,130.30 139.76,130.64 138.43,131.01 137.09,131.39 135.76,131.80 134.42,132.24 133.08,132.70 131.75,133.18 130.41,133.69 129.08,134.22 127.74,134.78 126.40,135.37 125.07,135.98 123.73,136.61 122.40,137.26 121.06,137.94 119.72,138.64 118.39,139.37 117.05,140.11 115.72,140.88 114.38,141.67 113.04,142.48 111.71,143.32 110.37,144.19 109.04,145.09 107.70,146.02 106.36,147.00 105.03,148.02 103.69,149.09 102.36,150.20 101.02,151.35 99.68,152.55 98.35,153.78 97.01,155.05 95.68,156.36 94.34,157.69 93.00,159.06 91.67,160.46 90.33,161.89 89.00,163.35 87.66,164.85 86.32,166.38 84.99,167.94 83.65,169.55 82.32,171.18 80.98,172.84 79.64,174.52 78.31,176.22 76.97,177.94 75.64,179.66 74.30,181.39" fill="#c04a96" fill-opacity="0.4"/>
<polygon points="74.30,141.17 75.64,142.43 76.97,143.68 78.31,144.91 79.64,146.13 80.98,147.32 82.32,148.47 83.65,149.58 84.99,150.65 86.32,151.66 87.66,152.62 89.00,153.50 90.33,154.32 91.67,155.06 93.00,155.73 94.34,156.30 95.68,156.79 97.01,157.19 98.35,157.51 99.68,157.75 101.02,157.93 102.36,158.06 103.69,158.14 105.03,158.18 106.36,158.19 107.70,158.17 109.04,158.14 110.37,158.09 111.71,158.04 113.04,157.98 114.38,157.92 115.72,157.87 117.05,157.83 118.39,157.81 119.72,157.80 121.06,157.80 122.40,157.83 123.73,157.87 125.07,157.93 126.40,158.02 127.74,158.13 129.08,158.26 130.41,158.41 131.75,158.59 133.08,158.80 134.42,159.02 135.76,159.28 137.09,159.55 138.43,159.85 139.76,160.18 141.10,160.52 142.43,160.89 143.77,161.28 145.11,161.69 146.44,162.11 147.78,162.56 149.11,163.01 150.45,163.47 151.79,163.94 153.12,164.42 154.46,164.89 155.79,165.36 157.13,165.83 158.47,166.29 159.80,166.74 161.14,167.18 162.47,167.60 163.81,168.00 165.15,168.39 166.48,168.75 167.82,169.09 169.15,169.41 170.49,169.71 171.83,169.98 173.16,170.23 174.50,170.46 175.83,170.66 177.17,170.84 178.51,171.00 179.84,171.14 181.18,171.27 182.51,171.38 183.85,171.47 185.19,171.56 186.52,171.64 187.86,171.71 189.19,171.77 190.53,171.82 191.87,171.87 193.20,171.90 194.54,171.93 195.87,171.95 197.21,171.97 198.55,171.97 199.88,171.96 201.22,171.94 202.55,171.90 203.89,171.84 205.23,171.77 206.56,171.68 207.90,171.58 209.23,171.46 210.57,171.33 211.91,171.20 213.24,171.06 214.58,170.93 215.91,170.79 217.25,170.66 218.59,170.54 219.92,170.44 221.26,170.35 222.59,170.28 223.93,170.24 225.27,170.22 226.60,170.24 227.94,170.28 229.27,170.36 230.61,170.46 231.95,170.58 233.28,170.73 234.62,170.91 235.95,171.10 237.29,171.31 238.63,171.54 239.96,171.79 241.30,172.04 242.63,172.29 243.97,172.55 245.31,172.80 246.64,173.05 247.98,173.29 249.31,173.52 250.65,173.74 251.99,173.95 253.32,174.15 254.66,174.34 255.99,174.51 257.33,174.67 258.67,174.81 260.00,174.93 261.34,175.04 262.67,175.13 264.01,175.20 265.34,175.24 266.68,175.27 268.02,175.29 269.35,175.28 270.69,175.26 272.02,175.23 273.36,175.19 274.70,175.14 276.03,175.09 277.37,175.03 278.70,174.96 280.04,174.90 281.38,174.82 282.71,174.75 284.05,174.67 285.38,174.60 286.72,174.52 288.06,174.43 289.39,174.33 290.73,174.22 292.06,174.10 293.40,173.94 294.74,173.77 296.07,173.56 297.41,173.32 298.74,173.04 300.08,172.71 301.42,172.33 302.75,171.90 304.09,171.40 305.42,170.84 306.76,170.21 308.10,169.51 309.43,168.74 310.77,167.91 312.10,167.02 313.44,166.07 314.78,165.06 316.11,163.99 317.45,162.88 318.78,161.71 320.12,160.51 321.46,159.28 322.79,158.02 324.13,156.75 325.46,155.46 326.80,154.16 326.80,225.22 325.46,224.28 324.13,223.35 322.79,222.44 321.46,221.55 320.12,220.69 318.78,219.86 317.45,219.08 316.11,218.35 314.78,217.68 313.44,217.07 312.10,216.52 310.77,216.03 309.43,215.58 308.10,215.19 306.76,214.83 305.42,214.52 304.09,214.24 302.75,213.99 301.42,213.78 300.08,213.59 298.74,213.44 297.41,213.30 296.07,213.20 294.74,213.12 293.40,213.06 292.06,213.03 290.73,213.01 289.39,213.00 288.06,213.01 286.72,213.03 285.38,213.06 284.05,213.09 282.71,213.12 281.38,213.15 280.04,213.18 278.70,213.22 277.37,213.25 276.03,213.27 274.70,213.30 273.36,213.31 272.02,213.32 270.69,213.32 269.35,213.32 268.02,213.30 266.68,213.27 265.34,213.23 264.01,213.19 262.67,213.13 261.34,213.06 260.00,212.98 258.67,212.90 257.33,212.82 255.99,212.74 254.66,212.66 253.32,212.59 251.99,212.51 250.65,212.44 249.31,212.37 247.98,212.30 246.64,212.23 245.31,212.16 243.97,212.08 242.63,212.00 241.30,211.91 239.96,211.83 238.63,211.75 237.29,211.67 235.95,211.60 234.62,211.53 233.28,211.47 231.95,211.42 230.61,211.38 229.27,211.37 227.94,211.37 226.60,211.40 225.27,211.45 223.93,211.54 222.59,211.66 221.26,211.81 219.92,211.99 218.59,212.22 217.25,212.47 215.91,212.77 214.58,213.10 213.24,213.46 211.91,213.85 210.57,214.23 209.23,214.61 207.90,214.96 206.56,215.27 205.23,215.52 203.89,215.71 202.55,215.83 201.22,215.88 199.88,215.86 198.55,215.79 197.21,215.65 195.87,215.46 194.54,215.21 193.20,214.92 191.87,214.59 190.53,214.24 189.19,213.86 187.86,213.48 186.52,213.11 185.19,212.75 183.85,212.41 182.51,212.10 181.18,211.80 179.84,211.52 178.51,211.24 177.17,210.96 175.83,210.68 174.50,210.38 173.16,210.07 171.83,209.75 170.49,209.41 169.15,209.05 167.82,208.67 166.48,208.27 165.15,207.85 163.81,207.41 162.47,206.94 161.14,206.46 159.80,205.96 158.47,205.45 157.13,204.93 155.79,204.40 154.46,203.86 153.12,203.32 151.79,202.79 150.45,202.25 149.11,201.72 147.78,201.21 146.44,200.70 145.11,200.22 143.77,199.75 142.43,199.31 141.10,198.89 139.76,198.48 138.43,198.10 137.09,197.74 135.76,197.40 134.42,197.09 133.08,196.79 131.75,196.52 130.41,196.26 129.08,196.02 127.74,195.81 126.40,195.61 125.07,195.42 123.73,195.25 122.40,195.10 121.06,194.96 119.72,194.83 118.39,194.72 117.05,194.61 115.72,194.51 114.38,194.42 113.04,194.33 111.71,194.26 110.37,194.21 109.04,194.17 107.70,194.16 106.36,194.18 105.03,194.24 103.69,194.33 102.36,194.48 101.02,194.69 99.68,194.99 98.35,195.38 97.01,195.88 95.68,196.50 94.34,197.27 93.00,198.17 91.67,199.21 90.33,200.36 89.00,201.61 87.66,202.96 86.32,204.39 84.99,205.89 83.65,207.44 82.32,209.05 80.98,210.70 79.64,212.38 78.31,214.09 76.97,215.82 75.64,217.57 74.30,219.32" fill="#c04a96" fill-opacity="0.4"/>
<polygon points="74.30,142.05 75.64,141.87 76.97,141.70 78.31,141.52 79.64,141.33 80.98,141.14 82.32,140.94 83.65,140.73 84.99,140.51 86.32,140.27 87.66,140.01 89.00,139.74 90.33,139.44 91.67,139.12 93.00,138.78 94.34,138.41 95.68,138.02 97.01,137.59 98.35,137.14 99.68,136.66 101.02,136.15 102.36,135.62 103.69,135.07 105.03,134.49 106.36,133.90 107.70,133.28 109.04,132.65 110.37,132.00 111.71,131.33 113.04,130.65 114.38,129.95 115.72,129.24 117.05,128.51 118.39,127.76 119.72,126.99 121.06,126.20 122.40,125.37 123.73,124.50 125.07,123.60 126.40,122.65 127.74,121.68 129.08,120.68 130.41,119.67 131.75,118.66 133.08,117.65 134.42,116.67 135.76,115.71 137.09,114.79 138.43,113.89 139.76,113.00 141.10,112.11 142.43,111.23 143.77,110.34 145.11,109.43 146.44,108.50 147.78,107.56 149.11,106.62 150.45,105.70 151.79,104.80 153.12,103.94 154.46,103.14 155.79,102.39 157.13,101.71 158.47,101.10 159.80,100.56 161.14,100.08 162.47,99.66 163.81,99.31 165.15,99.03 166.48,98.80 167.82,98.63 169.15,98.52 170.49,98.47 171.83,98.46 173.16,98.50 174.50,98.59 175.83,98.72 177.17,98.88 178.51,99.09 179.84,99.32 181.18,99.57 182.51,99.85 183.85,100.15 185.19,100.46 186.52,100.78 187.86,101.10 189.19,101.44 190.53,101.79 191.87,102.14 193.20,102.49 194.54,102.86 195.87,103.22 197.21,103.59 198.55,103.97 199.88,104.35 201.22,104.74 202.55,105.12 203.89,105.52 205.23,105.91 206.56,106.32 207.90,106.73 209.23,107.16 210.57,107.62 211.91,108.11 213.24,108.63 214.58,109.19 215.91,109.80 217.25,110.45 218.59,111.11 219.92,111.79 221.26,112.45 222.59,113.08 223.93,113.66 225.27,114.18 226.60,114.63 227.94,115.00 229.27,115.29 230.61,115.51 231.95,115.64 233.28,115.70 234.62,115.68 235.95,115.58 237.29,115.41 238.63,115.17 239.96,114.88 241.30,114.54 242.63,114.17 243.97,113.76 245.31,113.35 246.64,112.91 247.98,112.47 249.31,112.02 250.65,111.55 251.99,111.07 253.32,110.57 254.66,110.06 255.99,109.54 257.33,109.00 258.67,108.45 260.00,107.87 261.34,107.27 262.67,106.65 264.01,106.01 265.34,105.34 266.68,104.64 268.02,103.92 269.35,103.17 270.69,102.41 272.02,101.62 273.36,100.81 274.70,99.99 276.03,99.15 277.37,98.29 278.70,97.41 280.04,96.52 281.38,95.59 282.71,94.65 284.05,93.67 285.38,92.67 286.72,91.63 288.06,90.56 289.39,89.46 290.73,88.32 292.06,87.15 293.40,85.95 294.74,84.71 296.07,83.43 297.41,82.11 298.74,80.76 300.08,79.38 301.42,77.97 302.75,76.52 304.09,75.05 305.42,73.54 306.76,72.01 308.10,70.44 309.43,68.85 310.77,67.23 312.10,65.59 313.44,63.92 314.78,62.22 316.11,60.49 317.45,58.74 318.78,56.97 320.12,55.18 321.46,53.38 322.79,51.56 324.13,49.74 325.46,47.91 326.80,46.08 326.80,98.46 325.46,98.76 324.13,99.07 322.79,99.38 321.46,99.69 320.12,100.01 318.78,100.34 317.45,100.68 316.11,101.03 314.78,101.39 313.44,101.77 312.10,102.18 310.77,102.61 309.43,103.09 308.10,103.62 306.76,104.20 305.42,104.85 304.09,105.57 302.75,106.36 301.42,107.22 300.08,108.11 298.74,109.05 297.41,110.02 296.07,111.00 294.74,111.98 293.40,112.97 292.06,113.95 290.73,114.93 289.39,115.90 288.06,116.85 286.72,117.80 285.38,118.72 284.05,119.63 282.71,120.53 281.38,121.41 280.04,122.28 278.70,123.14 277.37,124.00 276.03,124.84 274.70,125.69 273.36,126.54 272.02,127.38 270.69,128.22 269.35,129.06 268.02,129.88 266.68,130.70 265.34,131.51 264.01,132.31 262.67,133.09 261.34,133.85 260.00,134.60 258.67,135.32 257.33,136.03 255.99,136.70 254.66,137.35 253.32,137.97 251.99,138.56 250.65,139.12 249.31,139.67 247.98,140.19 246.64,140.69 245.31,141.18 243.97,141.65 242.63,142.11 241.30,142.53 239.96,142.92 238.63,143.25 237.29,143.53 235.95,143.74 234.62,143.88 233.28,143.93 231.95,143.90 230.61,143.79 229.27,143.60 227.94,143.33 226.60,142.98 225.27,142.56 223.93,142.05 222.59,141.48 221.26,140.87 219.92,140.23 218.59,139.58 217.25,138.94 215.91,138.32 214.58,137.76 213.24,137.24 211.91,136.77 210.57,136.33 209.23,135.91 207.90,135.50 206.56,135.09 205.23,134.67 203.89,134.24 202.55,133.78 201.22,133.30 199.88,132.82 198.55,132.33 197.21,131.84 195.87,131.35 194.54,130.88 193.20,130.42 191.87,129.97 190.53,129.55 189.19,129.15 187.86,128.78 186.52,128.44 185.19,128.13 183.85,127.86 182.51,127.63 181.18,127.43 179.84,127.27 178.51,127.15 177.17,127.06 175.83,127.00 174.50,126.98 173.16,127.00 171.83,127.05 170.49,127.14 169.15,127.26 167.82,127.41 166.48,127.60 165.15,127.83 163.81,128.09 162.47,128.38 161.14,128.71 159.80,129.06 158.47,129.45 157.13,129.86 155.79,130.29 154.46,130.74 153.12,131.21 151.79,131.70 150.45,132.19 149.11,132.69 147.78,133.20 146.44,133.70 145.11,134.19 143.77,134.68 142.43,135.15 141.10,135.64 139.76,136.12 138.43,136.63 137.09,137.15 135.76,137.70 134.42,138.29 133.08,138.91 131.75,139.57 130.41,140.26 129.08,140.98 127.74,141.72 126.40,142.49 125.07,143.28 123.73,144.08 122.40,144.91 121.06,145.74 119.72,146.58 118.39,147.43 117.05,148.28 115.72,149.13 114.38,149.97 113.04,150.81 111.71,151.65 110.37,152.48 109.04,153.31 107.70,154.14 106.36,154.97 105.03,155.80 103.69,156.64 102.36,157.49 101.02,158.37 99.68,159.27 98.35,160.21 97.01,161.20 95.68,162.24 94.34,163.35 93.00,164.53 91.67,165.77 90.33,167.09 89.00,168.47 87.66,169.93 86.32,171.46 84.99,173.07 83.65,174.74 82.32,176.48 80.98,178.28 79.64,180.12 78.31,182.00 76.97,183.91 75.64,185.83 74.30,187.77" fill="#ffa500" fill-opacity="0.4"/>
<polygon points="74.30,144.53 75.64,146.58 76.97,148.63 78.31,150.67 79.64,152.69 80.98,154.69 82.32,156.67 83.65,158.62 84.99,160.53 86.32,162.40 87.66,164.22 89.00,165.99 90.33,167.69 91.67,169.33 93.00,170.89 94.34,172.37 95.68,173.76 97.01,175.06 98.35,176.28 99.68,177.43 101.02,178.50 102.36,179.51 103.69,180.46 105.03,181.35 106.36,182.21 107.70,183.02 109.04,183.80 110.37,184.54 111.71,185.26 113.04,185.96 114.38,186.65 115.72,187.32 117.05,187.98 118.39,188.64 119.72,189.29 121.06,189.95 122.40,190.60 123.73,191.27 125.07,191.93 126.40,192.61 127.74,193.29 129.08,193.97 130.41,194.65 131.75,195.31 133.08,195.95 134.42,196.57 135.76,197.16 137.09,197.72 138.43,198.25 139.76,198.75 141.10,199.23 142.43,199.68 143.77,200.11 145.11,200.52 146.44,200.91 147.78,201.28 149.11,201.63 150.45,201.97 151.79,202.29 153.12,202.60 154.46,202.91 155.79,203.20 157.13,203.49 158.47,203.77 159.80,204.05 161.14,204.32 162.47,204.58 163.81,204.85 165.15,205.11 166.48,205.37 167.82,205.62 169.15,205.86 170.49,206.10 171.83,206.32 173.16,206.53 174.50,206.72 175.83,206.89 177.17,207.04 178.51,207.18 179.84,207.32 181.18,207.46 182.51,207.60 183.85,207.76 185.19,207.93 186.52,208.13 187.86,208.35 189.19,208.59 190.53,208.84 191.87,209.11 193.20,209.39 194.54,209.68 195.87,209.98 197.21,210.29 198.55,210.60 199.88,210.92 201.22,211.23 202.55,211.55 203.89,211.86 205.23,212.17 206.56,212.48 207.90,212.77 209.23,213.06 210.57,213.33 211.91,213.59 213.24,213.84 214.58,214.06 215.91,214.26 217.25,214.44 218.59,214.59 219.92,214.73 221.26,214.84 222.59,214.94 223.93,215.01 225.27,215.07 226.60,215.10 227.94,215.13 229.27,215.13 230.61,215.13 231.95,215.12 233.28,215.10 234.62,215.08 235.95,215.05 237.29,215.03 238.63,215.00 239.96,214.97 241.30,214.93 242.63,214.89 243.97,214.85 245.31,214.80 246.64,214.75 247.98,214.69 249.31,214.62 250.65,214.54 251.99,214.45 253.32,214.36 254.66,214.24 255.99,214.12 257.33,213.98 258.67,213.84 260.00,213.68 261.34,213.53 262.67,213.36 264.01,213.20 265.34,213.04 266.68,212.88 268.02,212.73 269.35,212.58 270.69,212.42 272.02,212.27 273.36,212.11 274.70,211.96 276.03,211.79 277.37,211.63 278.70,211.45 280.04,211.27 281.38,211.08 282.71,210.88 284.05,210.66 285.38,210.42 286.72,210.17 288.06,209.90 289.39,209.62 290.73,209.30 292.06,208.97 293.40,208.61 294.74,208.23 296.07,207.81 297.41,207.37 298.74,206.89 300.08,206.38 301.42,205.82 302.75,205.23 304.09,204.58 305.42,203.88 306.76,203.13 308.10,202.30 309.43,201.40 310.77,200.40 312.10,199.30 313.44,198.09 314.78,196.74 316.11,195.27 317.45,193.66 318.78,191.95 320.12,190.13 321.46,188.24 322.79,186.29 324.13,184.29 325.46,182.25 326.80,180.20 326.80,241.41 325.46,241.06 324.13,240.71 322.79,240.36 321.46,240.02 320.12,239.70 318.78,239.40 317.45,239.11 316.11,238.85 314.78,238.61 313.44,238.41 312.10,238.23 310.77,238.08 309.43,237.94 308.10,237.83 306.76,237.73 305.42,237.65 304.09,237.58 302.75,237.52 301.42,237.48 300.08,237.46 298.74,237.46 297.41,237.50 296.07,237.57 294.74,237.68 293.40,237.83 292.06,238.02 290.73,238.25 289.39,238.51 288.06,238.81 286.72,239.14 285.38,239.50 284.05,239.89 282.71,240.31 281.38,240.74 280.04,241.18 278.70,241.63 277.37,242.07 276.03,242.51 274.70,242.93 273.36,243.33 272.02,243.72 270.69,244.08 269.35,244.43 268.02,244.76 266.68,245.07 265.34,245.36 264.01,245.64 262.67,245.90 261.34,246.14 260.00,246.38 258.67,246.61 257.33,246.84 255.99,247.06 254.66,247.28 253.32,247.51 251.99,247.74 250.65,247.96 249.31,248.19 247.98,248.40 246.64,248.61 245.31,248.81 243.97,248.99 242.63,249.16 241.30,249.32 239.96,249.47 238.63,249.60 237.29,249.71 235.95,249.81 234.62,249.90 233.28,249.97 231.95,250.02 230.61,250.05 229.27,250.05 227.94,250.03 226.60,249.97 225.27,249.88 223.93,249.75 222.59,249.58 221.26,249.37 219.92,249.13 218.59,248.87 217.25,248.57 215.91,248.25 214.58,247.91 213.24,247.55 211.91,247.17 210.57,246.79 209.23,246.41 207.90,246.03 206.56,245.65 205.23,245.30 203.89,244.96 202.55,244.65 201.22,244.35 199.88,244.08 198.55,243.84 197.21,243.61 195.87,243.40 194.54,243.22 193.20,243.06 191.87,242.92 190.53,242.79 189.19,242.68 187.86,242.57 186.52,242.47 185.19,242.37 183.85,242.27 182.51,242.17 181.18,242.06 179.84,241.95 178.51,241.83 177.17,241.71 175.83,241.57 174.50,241.42 173.16,241.26 171.83,241.08 170.49,240.90 169.15,240.69 167.82,240.48 166.48,240.24 165.15,239.99 163.81,239.73 162.47,239.45 161.14,239.15 159.80,238.84 158.47,238.52 157.13,238.18 155.79,237.83 154.46,237.47 153.12,237.10 151.79,236.72 150.45,236.32 149.11,235.92 147.78,235.50 146.44,235.08 145.11,234.64 143.77,234.20 142.43,233.74 141.10,233.27 139.76,232.79 138.43,232.30 137.09,231.80 135.76,231.29 134.42,230.76 133.08,230.22 131.75,229.67 130.41,229.11 129.08,228.54 127.74,227.95 126.40,227.36 125.07,226.75 123.73,226.13 122.40,225.50 121.06,224.86 119.72,224.21 118.39,223.54 117.05,222.86 115.72,222.17 114.38,221.46 113.04,220.74 111.71,220.01 110.37,219.28 109.04,218.54 107.70,217.81 106.36,217.08 105.03,216.36 103.69,215.66 102.36,214.97 101.02,214.29 99.68,213.64 98.35,213.00 97.01,212.39 95.68,211.80 94.34,211.24 93.00,210.71 91.67,210.20 90.33,209.72 89.00,209.28 87.66,208.86 86.32,208.49 84.99,208.14 83.65,207.83 82.32,207.55 80.98,207.30 79.64,207.07 78.31,206.86 76.97,206.66 75.64,206.47 74.30,206.29" fill="#ffa500" fill-opacity="0.4"/>
</g>
<rect x="62.1" y="7.55" width="277.3" height="320.6" fill="none" stroke="#333333" stroke-width="1.1"/>
<line x1="58.4" x2="62.1" y1="22.0" y2="22.0" stroke="#333333" stroke-width="1.1"/>
<text x="55.2" y="26.3" font-size="11.6" fill="#4d4d4d" text-anchor="end">1.00</text>
<line x1="58.4" x2="62.1" y1="94.8" y2="94.8" stroke="#333333" stroke-width="1.1"/>
<text x="55.2" y="99.1" font-size="11.6" fill="#4d4d4d" text-anchor="end">0.75</text>
<line x1="58.4" x2="62.1" y1="167.7" y2="167.7" stroke="#333333" stroke-width="1.1"/>
<text x="55.2" y="172.0" font-size="11.6" fill="#4d4d4d" text-anchor="end">0.50</text>
<line x1="58.4" x2="62.1" y1="240.7" y2="240.7" stroke="#333333" stroke-width="1.1"/>
<text x="55.2" y="245.0" font-size="11.6" fill="#4d4d4d" text-anchor="end">0.25</text>
<line x1="58.4" x2="62.1" y1="313.6" y2="313.6" stroke="#333333" stroke-width="1.1"/>
<text x="55.2" y="317.9" font-size="11.6" fill="#4d4d4d" text-anchor="end">0.00</text>
<line x1="69.00" x2="69.00" y1="328.2" y2="331.8" stroke="#333333" stroke-width="1.1"/>
<text x="69.00" y="343.0" font-size="11.6" fill="#4d4d4d" text-anchor="middle">0</text>
<line x1="122.74" x2="122.74" y1="328.2" y2="331.8" stroke="#333333" stroke-width="1.1"/>
<text x="122.74" y="343.0" font-size="11.6" fill="#4d4d4d" text-anchor="middle">10</text>
<line x1="176.48" x2="176.48" y1="328.2" y2="331.8" stroke="#333333" stroke-width="1.1"/>
<text x="176.48" y="343.0" font-size="11.6" fill="#4d4d4d" text-anchor="middle">20</text>
<line x1="230.22" x2="230.22" y1="328.2" y2="331.8" stroke="#333333" stroke-width="1.1"/>
<text x="230.22" y="343.0" font-size="11.6" fill="#4d4d4d" text-anchor="middle">30</text>
<line x1="283.96" x2="283.96" y1="328.2" y2="331.8" stroke="#333333" stroke-width="1.1"/>
<text x="283.96" y="343.0" font-size="11.6" fill="#4d4d4d" text-anchor="middle">40</text>
<line x1="337.70" x2="337.70" y1="328.2" y2="331.8" stroke="#333333" stroke-width="1.1"/>
<text x="337.70" y="343.0" font-size="11.6" fill="#4d4d4d" text-anchor="middle">50</text>
<text transform="translate(19.60,166.30) rotate(-90) scale(1,1.06)" font-size="16.8" fill="#000" text-anchor="middle">Response proportion</text>
<text transform="translate(80.70,41.80) scale(1,1.06)" font-size="15.4" fill="#000" text-anchor="start">Gain correct</text>
<text transform="translate(74.50,304.90) scale(1,1.06)" font-size="15.4" fill="#000" text-anchor="start">Loss incorrect</text>
<text transform="translate(7.60,18.90) scale(1,1.06)" font-size="16.5" fill="#000" text-anchor="start">a)</text>
<text transform="translate(353.50,18.90) scale(1,1.06)" font-size="16.5" fill="#000" text-anchor="start">b)</text>
<rect x="407.6" y="7.35" width="135.10" height="24.10" fill="#d9d9d9" stroke="#333333" stroke-width="1.1"/>
<text transform="translate(475.15,24.40) scale(1,1.06)" font-size="14.5" fill="#1a1a1a" text-anchor="middle">Gain</text>
<rect x="549.9" y="7.35" width="134.30" height="24.10" fill="#d9d9d9" stroke="#333333" stroke-width="1.1"/>
<text transform="translate(617.05,24.40) scale(1,1.06)" font-size="14.5" fill="#1a1a1a" text-anchor="middle">Loss</text>
<line x1="432.55" x2="432.55" y1="51.2" y2="64.6" stroke="#333333" stroke-width="1.35"/>
<line x1="432.55" x2="432.55" y1="183.2" y2="328.1" stroke="#333333" stroke-width="1.35"/>
<rect x="416.65" y="64.6" width="31.8" height="118.60" fill="#094462" fill-opacity="0.5" stroke="#333333" stroke-width="1.35"/>
<line x1="416.65" x2="448.45" y1="111.3" y2="111.3" stroke="#333333" stroke-width="2.4"/>
<circle cx="432" cy="51.2" r="2.6" fill="#094462"/>
<circle cx="428.9" cy="57.4" r="2.6" fill="#094462"/>
<circle cx="433.2" cy="57.4" r="2.6" fill="#094462"/>
<circle cx="432.5" cy="63.2" r="2.6" fill="#094462"/>
<circle cx="434" cy="69.2" r="2.6" fill="#094462"/>
<circle cx="434.3" cy="75.4" r="2.6" fill="#094462"/>
<circle cx="433.2" cy="81.3" r="2.6" fill="#094462"/>
<circle cx="435.5" cy="87.4" r="2.6" fill="#094462"/>
<circle cx="430.5" cy="105.4" r="2.6" fill="#094462"/>
<circle cx="430.5" cy="111.3" r="2.6" fill="#094462"/>
<circle cx="435.4" cy="117.5" r="2.6" fill="#094462"/>
<circle cx="430.1" cy="123.5" r="2.6" fill="#094462"/>
<circle cx="435.5" cy="123.5" r="2.6" fill="#094462"/>
<circle cx="431.2" cy="129.6" r="2.6" fill="#094462"/>
<circle cx="432.3" cy="201.5" r="2.6" fill="#094462"/>
<circle cx="435.3" cy="201.5" r="2.6" fill="#094462"/>
<circle cx="435.8" cy="213.6" r="2.6" fill="#094462"/>
<circle cx="433.8" cy="219.7" r="2.6" fill="#094462"/>
<circle cx="430.5" cy="225.8" r="2.6" fill="#094462"/>
<circle cx="432.5" cy="310.1" r="2.6" fill="#094462"/>
<circle cx="430.5" cy="328.1" r="2.6" fill="#094462"/>
<line x1="475.1" x2="475.1" y1="45.5" y2="90.5" stroke="#333333" stroke-width="1.35"/>
<line x1="475.1" x2="475.1" y1="210.4" y2="243.9" stroke="#333333" stroke-width="1.35"/>
<rect x="459.20" y="90.5" width="31.8" height="119.90" fill="#c04a96" fill-opacity="0.5" stroke="#333333" stroke-width="1.35"/>
<line x1="459.20" x2="491.00" y1="177.5" y2="177.5" stroke="#333333" stroke-width="2.4"/>
<circle cx="478.5" cy="45.5" r="2.6" fill="#c04a96"/>
<circle cx="474.4" cy="57.4" r="2.6" fill="#c04a96"/>
<circle cx="477.5" cy="57.4" r="2.6" fill="#c04a96"/>
<circle cx="473.1" cy="69.4" r="2.6" fill="#c04a96"/>
<circle cx="474.2" cy="81.3" r="2.6" fill="#c04a96"/>
<circle cx="474.7" cy="99.3" r="2.6" fill="#c04a96"/>
<circle cx="473.1" cy="105.4" r="2.6" fill="#c04a96"/>
<circle cx="477" cy="123.5" r="2.6" fill="#c04a96"/>
<circle cx="478.1" cy="165.4" r="2.6" fill="#c04a96"/>
<circle cx="471.9" cy="177.5" r="2.6" fill="#c04a96"/>
<circle cx="476.2" cy="183.5" r="2.6" fill="#c04a96"/>
<circle cx="478.5" cy="183.5" r="2.6" fill="#c04a96"/>
<circle cx="472.4" cy="189.6" r="2.6" fill="#c04a96"/>
<circle cx="475.8" cy="207.4" r="2.6" fill="#c04a96"/>
<circle cx="475.1" cy="213.8" r="2.6" fill="#c04a96"/>
<circle cx="478.5" cy="213.8" r="2.6" fill="#c04a96"/>
<circle cx="478.1" cy="225.8" r="2.6" fill="#c04a96"/>
<circle cx="475.5" cy="231.7" r="2.6" fill="#c04a96"/>
<circle cx="474.4" cy="243.9" r="2.6" fill="#c04a96"/>
<line x1="517.4" x2="517.4" y1="51.2" y2="75.4" stroke="#333333" stroke-width="1.35"/>
<line x1="517.4" x2="517.4" y1="168.5" y2="303.9" stroke="#333333" stroke-width="1.35"/>
<rect x="501.50" y="75.4" width="31.8" height="93.10" fill="#ffa500" fill-opacity="0.5" stroke="#333333" stroke-width="1.35"/>
<line x1="501.50" x2="533.30" y1="141.3" y2="141.3" stroke="#333333" stroke-width="2.4"/>
<circle cx="520.5" cy="51.2" r="2.6" fill="#ffa500"/>
<circle cx="514.4" cy="63.2" r="2.6" fill="#ffa500"/>
<circle cx="517.8" cy="63.2" r="2.6" fill="#ffa500"/>
<circle cx="514.7" cy="69.2" r="2.6" fill="#ffa500"/>
<circle cx="515.5" cy="75.4" r="2.6" fill="#ffa500"/>
<circle cx="517.8" cy="75.4" r="2.6" fill="#ffa500"/>
<circle cx="518.5" cy="87.4" r="2.6" fill="#ffa500"/>
<circle cx="520.1" cy="111.2" r="2.6" fill="#ffa500"/>
<circle cx="519" cy="117.4" r="2.6" fill="#ffa500"/>
<circle cx="515.5" cy="141.3" r="2.6" fill="#ffa500"/>
<circle cx="515.1" cy="147.4" r="2.6" fill="#ffa500"/>
<circle cx="520.4" cy="147.4" r="2.6" fill="#ffa500"/>
<circle cx="517.5" cy="165.4" r="2.6" fill="#ffa500"/>
<circle cx="518.5" cy="171.6" r="2.6" fill="#ffa500"/>
<circle cx="515.1" cy="243.6" r="2.6" fill="#ffa500"/>
<circle cx="519.8" cy="249.7" r="2.6" fill="#ffa500"/>
<circle cx="519.3" cy="297.7" r="2.6" fill="#ffa500"/>
<circle cx="518.5" cy="303.9" r="2.6" fill="#ffa500"/>
<line x1="575.0" x2="575.0" y1="93.6" y2="125.0" stroke="#333333" stroke-width="1.35"/>
<line x1="575.0" x2="575.0" y1="152.0" y2="189.4" stroke="#333333" stroke-width="1.35"/>
<rect x="559.10" y="125.0" width="31.8" height="27.00" fill="#094462" fill-opacity="0.5" stroke="#333333" stroke-width="1.35"/>
<line x1="559.10" x2="590.90" y1="135.1" y2="135.1" stroke="#333333" stroke-width="2.4"/>
<circle cx="575.5" cy="81.3" r="2.6" fill="#094462"/>
<circle cx="574.7" cy="93.6" r="2.6" fill="#094462"/>
<circle cx="574.7" cy="105.5" r="2.6" fill="#094462"/>
<circle cx="572.7" cy="111.3" r="2.6" fill="#094462"/>
<circle cx="573.9" cy="123.1" r="2.6" fill="#094462"/>
<circle cx="572.2" cy="129.7" r="2.6" fill="#094462"/>
<circle cx="577.8" cy="129.7" r="2.6" fill="#094462"/>
<circle cx="573.1" cy="135.1" r="2.6" fill="#094462"/>
<circle cx="577.5" cy="135.1" r="2.6" fill="#094462"/>
<circle cx="577.5" cy="141.5" r="2.6" fill="#094462"/>
<circle cx="571.6" cy="147.4" r="2.6" fill="#094462"/>
<circle cx="577.5" cy="147.4" r="2.6" fill="#094462"/>
<circle cx="573.1" cy="153.6" r="2.6" fill="#094462"/>
<circle cx="572.4" cy="177.3" r="2.6" fill="#094462"/>
<circle cx="576.5" cy="177.3" r="2.6" fill="#094462"/>
<circle cx="574.7" cy="189.4" r="2.6" fill="#094462"/>
<circle cx="578.2" cy="207.7" r="2.6" fill="#094462"/>
<circle cx="573.4" cy="231.9" r="2.6" fill="#094462"/>
<line x1="617.35" x2="617.35" y1="87.3" y2="126.5" stroke="#333333" stroke-width="1.35"/>
<line x1="617.35" x2="617.35" y1="198.4" y2="249.7" stroke="#333333" stroke-width="1.35"/>
<rect x="601.45" y="126.5" width="31.8" height="71.90" fill="#c04a96" fill-opacity="0.5" stroke="#333333" stroke-width="1.35"/>
<line x1="601.45" x2="633.25" y1="177.4" y2="177.4" stroke="#333333" stroke-width="2.4"/>
<circle cx="617.1" cy="87.3" r="2.6" fill="#c04a96"/>
<circle cx="616.6" cy="99.4" r="2.6" fill="#c04a96"/>
<circle cx="615.4" cy="111.6" r="2.6" fill="#c04a96"/>
<circle cx="620.1" cy="117.4" r="2.6" fill="#c04a96"/>
<circle cx="617.8" cy="123.3" r="2.6" fill="#c04a96"/>
<circle cx="620.5" cy="129.3" r="2.6" fill="#c04a96"/>
<circle cx="616.6" cy="147.4" r="2.6" fill="#c04a96"/>
<circle cx="619" cy="171.3" r="2.6" fill="#c04a96"/>
<circle cx="621" cy="171.3" r="2.6" fill="#c04a96"/>
<circle cx="614.3" cy="177.4" r="2.6" fill="#c04a96"/>
<circle cx="614" cy="189.6" r="2.6" fill="#c04a96"/>
<circle cx="618.1" cy="189.6" r="2.6" fill="#c04a96"/>
<circle cx="616.6" cy="195.4" r="2.6" fill="#c04a96"/>
<circle cx="617.8" cy="195.4" r="2.6" fill="#c04a96"/>
<circle cx="620.5" cy="201.6" r="2.6" fill="#c04a96"/>
<circle cx="615.1" cy="213.6" r="2.6" fill="#c04a96"/>
<circle cx="620.5" cy="225.8" r="2.6" fill="#c04a96"/>
<circle cx="618.9" cy="237.8" r="2.6" fill="#c04a96"/>
<circle cx="617.4" cy="249.7" r="2.6" fill="#c04a96"/>
<line x1="659.55" x2="659.55" y1="63.4" y2="99.6" stroke="#333333" stroke-width="1.35"/>
<line x1="659.55" x2="659.55" y1="177.7" y2="249.8" stroke="#333333" stroke-width="1.35"/>
<rect x="643.65" y="99.6" width="31.8" height="78.10" fill="#ffa500" fill-opacity="0.5" stroke="#333333" stroke-width="1.35"/>
<line x1="643.65" x2="675.45" y1="135.5" y2="135.5" stroke="#333333" stroke-width="2.4"/>
<circle cx="656.6" cy="63.4" r="2.6" fill="#ffa500"/>
<circle cx="662.8" cy="63.4" r="2.6" fill="#ffa500"/>
<circle cx="657.1" cy="81.3" r="2.6" fill="#ffa500"/>
<circle cx="660.2" cy="99.4" r="2.6" fill="#ffa500"/>
<circle cx="662.3" cy="105.3" r="2.6" fill="#ffa500"/>
<circle cx="657.9" cy="129.3" r="2.6" fill="#ffa500"/>
<circle cx="657.9" cy="135.5" r="2.6" fill="#ffa500"/>
<circle cx="661.2" cy="135.5" r="2.6" fill="#ffa500"/>
<circle cx="657.4" cy="141.3" r="2.6" fill="#ffa500"/>
<circle cx="657.1" cy="153.5" r="2.6" fill="#ffa500"/>
<circle cx="662" cy="153.5" r="2.6" fill="#ffa500"/>
<circle cx="659.7" cy="177.7" r="2.6" fill="#ffa500"/>
<circle cx="662.8" cy="177.7" r="2.6" fill="#ffa500"/>
<circle cx="657.6" cy="189.7" r="2.6" fill="#ffa500"/>
<circle cx="659.6" cy="189.7" r="2.6" fill="#ffa500"/>
<circle cx="661.2" cy="219.7" r="2.6" fill="#ffa500"/>
<circle cx="660.9" cy="249.8" r="2.6" fill="#ffa500"/>
<rect x="407.6" y="31.45" width="135.10" height="310.15" fill="none" stroke="#333333" stroke-width="1.1"/>
<rect x="549.9" y="31.45" width="134.30" height="310.15" fill="none" stroke="#333333" stroke-width="1.1"/>
<line x1="403.9" x2="407.6" y1="45.20" y2="45.20" stroke="#333333" stroke-width="1.1"/>
<text x="400.9" y="49.50" font-size="11.6" fill="#4d4d4d" text-anchor="end">1.00</text>
<line x1="403.9" x2="407.6" y1="117.43" y2="117.43" stroke="#333333" stroke-width="1.1"/>
<text x="400.9" y="121.73" font-size="11.6" fill="#4d4d4d" text-anchor="end">0.75</text>
<line x1="403.9" x2="407.6" y1="189.65" y2="189.65" stroke="#333333" stroke-width="1.1"/>
<text x="400.9" y="193.95" font-size="11.6" fill="#4d4d4d" text-anchor="end">0.50</text>
<line x1="403.9" x2="407.6" y1="261.88" y2="261.88" stroke="#333333" stroke-width="1.1"/>
<text x="400.9" y="266.18" font-size="11.6" fill="#4d4d4d" text-anchor="end">0.25</text>
<line x1="403.9" x2="407.6" y1="334.10" y2="334.10" stroke="#333333" stroke-width="1.1"/>
<text x="400.9" y="338.40" font-size="11.6" fill="#4d4d4d" text-anchor="end">0.00</text>
<text transform="translate(364.80,186.70) rotate(-90) scale(1,1.06)" font-size="16.8" fill="#000" text-anchor="middle">Mean hit rate</text>
<rect x="184.1" y="359.1" width="22.2" height="22.3" fill="#094462" fill-opacity="0.4"/>
<text transform="translate(213.40,375.90) scale(1,1.06)" font-size="14.5" fill="#000" text-anchor="start">Control</text>
<rect x="267.5" y="359.1" width="22.2" height="22.3" fill="#c04a96" fill-opacity="0.4"/>
<text transform="translate(296.60,375.90) scale(1,1.06)" font-size="14.5" fill="#000" text-anchor="start">PD-Placebo</text>
<rect x="381.2" y="359.1" width="22.2" height="22.3" fill="#ffa500" fill-opacity="0.4"/>
<text transform="translate(410.50,375.90) scale(1,1.06)" font-size="14.5" fill="#000" text-anchor="start">PD-Atomoxetine</text>
</svg>
</body></html>
